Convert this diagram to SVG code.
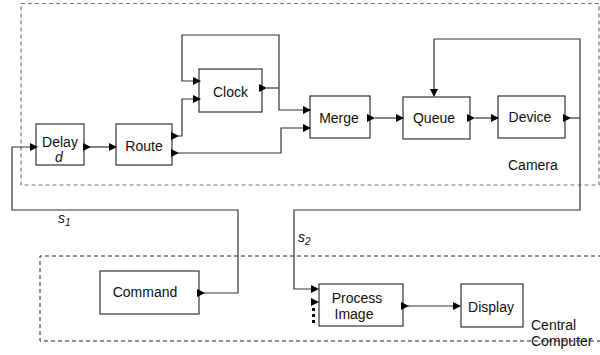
<svg xmlns="http://www.w3.org/2000/svg" width="600" height="355" viewBox="0 0 600 355">
<defs>
<style>
.box{fill:#fff;stroke:#333;stroke-width:1.2}
.lbl{font-family:"Liberation Sans",Arial,sans-serif;font-size:14px;fill:#111}
.it{font-style:italic}
.wire{fill:none;stroke:#333;stroke-width:1.2}
.port{fill:#000}
.dash1{fill:none;stroke:#777;stroke-width:1.2;stroke-dasharray:4,3}
.dash2{fill:none;stroke:#222;stroke-width:1;stroke-dasharray:4,3}
</style>
<polygon id="pr" points="0,-4 8,0 0,4"/>
<polygon id="pd" points="-4,0 4,0 0,8"/>
</defs>
<rect width="600" height="355" fill="#fff"/>
<g id="camera">
<rect class="dash1" x="21" y="3.5" width="578" height="181.5"/>
<text class="lbl" x="508" y="170">Camera</text>
</g>
<g id="central-computer">
<path class="dash2" d="M602,256 H40 V341 H602"/>
<text class="lbl" x="531" y="330">Central</text>
<text class="lbl" x="531" y="346">Computer</text>
</g>
<g id="connectors">
<path class="wire" d="M90,147 H110"/>
<path class="wire" d="M178,136 H182 V99 H194"/>
<path class="wire" d="M194,81 H182 V35 H279 V110 H304"/>
<path class="wire" d="M267,88 H279"/>
<path class="wire" d="M178,153 H281 V128 H304"/>
<path class="wire" d="M375,118 H397"/>
<path class="wire" d="M475,118 H492"/>
<path class="wire" d="M570,118 H580"/>
<path class="wire" d="M434,90 V39 H580 V210 H294 V289 H312"/>
<path class="wire" d="M204,293 H238 V210 H12 V147 H30"/>
<path class="wire" d="M408,306 H454"/>
<use href="#pr" class="port" x="453" y="306"/>
<use href="#pd" class="port" x="434" y="89"/>
<text class="lbl it" x="58" y="223">s<tspan font-size="10" dy="3">1</tspan></text>
<text class="lbl it" x="298" y="242">s<tspan font-size="10" dy="3">2</tspan></text>
</g>
<g id="delay">
<rect class="box" x="36" y="124" width="48" height="41"/>
<text class="lbl" x="60" y="147" text-anchor="middle">Delay</text>
<text class="lbl it" x="59" y="162" text-anchor="middle">d</text>
<use href="#pr" class="port" x="30" y="147"/>
<use href="#pr" class="port" x="83" y="147"/>
</g>
<g id="route">
<rect class="box" x="116" y="124" width="56" height="41"/>
<text class="lbl" x="144" y="151" text-anchor="middle">Route</text>
<use href="#pr" class="port" x="109" y="147"/>
<use href="#pr" class="port" x="171" y="136"/>
<use href="#pr" class="port" x="171" y="153"/>
</g>
<g id="clock">
<rect class="box" x="199" y="69" width="63" height="43"/>
<text class="lbl" x="230.5" y="97" text-anchor="middle">Clock</text>
<use href="#pr" class="port" x="193" y="81"/>
<use href="#pr" class="port" x="193" y="99"/>
<use href="#pr" class="port" x="259" y="88"/>
</g>
<g id="merge">
<rect class="box" x="310" y="96" width="60" height="42"/>
<text class="lbl" x="339" y="123" text-anchor="middle">Merge</text>
<use href="#pr" class="port" x="303" y="110"/>
<use href="#pr" class="port" x="303" y="128"/>
<use href="#pr" class="port" x="367" y="118"/>
</g>
<g id="queue">
<rect class="box" x="403" y="97" width="67" height="42"/>
<text class="lbl" x="434" y="123" text-anchor="middle">Queue</text>
<use href="#pr" class="port" x="396" y="118"/>
<use href="#pr" class="port" x="467" y="118"/>
</g>
<g id="device">
<rect class="box" x="498" y="96" width="67" height="42"/>
<text class="lbl" x="530" y="122" text-anchor="middle">Device</text>
<use href="#pr" class="port" x="491" y="118"/>
<use href="#pr" class="port" x="563" y="118"/>
</g>
<g id="command">
<rect class="box" x="100" y="271" width="99" height="43"/>
<text class="lbl" x="145" y="297" text-anchor="middle">Command</text>
<use href="#pr" class="port" x="197" y="293"/>
</g>
<g id="process-image">
<rect class="box" x="319" y="284" width="84" height="42"/>
<text class="lbl" x="357" y="303" text-anchor="middle">Process</text>
<text class="lbl" x="354" y="319" text-anchor="middle">Image</text>
<use href="#pr" class="port" x="311" y="289"/>
<use href="#pr" class="port" x="311" y="302"/>
<path d="M313.5,308 V326" stroke="#000" stroke-width="3" stroke-dasharray="3,3" fill="none"/>
<use href="#pr" class="port" x="401" y="306"/>
</g>
<g id="display">
<rect class="box" x="461" y="284" width="62" height="43"/>
<text class="lbl" x="491" y="312" text-anchor="middle">Display</text>
</g>
</svg>
